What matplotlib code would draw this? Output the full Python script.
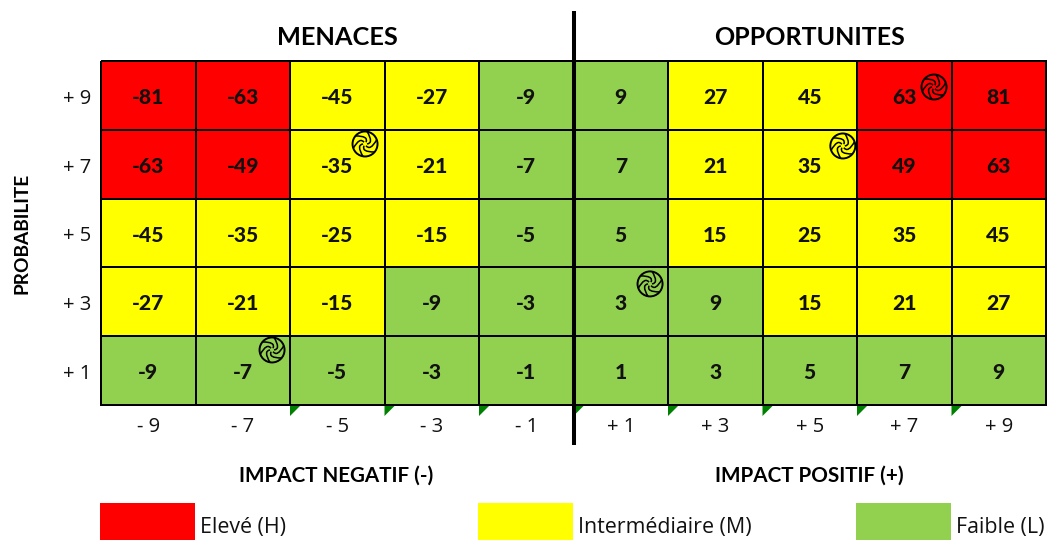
import numpy as np
import matplotlib
matplotlib.use('Agg')
import matplotlib.pyplot as plt
from matplotlib.colors import ListedColormap
from matplotlib.patches import Polygon, Circle, PathPatch
from matplotlib.path import Path
from matplotlib.transforms import Affine2D

impact_neg = [-9, -7, -5, -3, -1]
impact_pos = [1, 3, 5, 7, 9]
prob = [9, 7, 5, 3, 1]
impact_labels = ['- 9', '- 7', '- 5', '- 3', '- 1', '+ 1', '+ 3', '+ 5', '+ 7', '+ 9']
prob_labels = ['+ 9', '+ 7', '+ 5', '+ 3', '+ 1']
# colour class per cell: 0 low, 1 medium, 2 high
classes = [[2, 2, 1, 1, 0, 0, 1, 1, 2, 2],
           [2, 2, 1, 1, 0, 0, 1, 1, 2, 2],
           [1, 1, 1, 1, 0, 0, 1, 1, 1, 1],
           [1, 1, 1, 0, 0, 0, 0, 1, 1, 1],
           [0, 0, 0, 0, 0, 0, 0, 0, 0, 0]]
legend_labels = ['Elevé (H)', 'Intermédiaire (M)', 'Faible (L)']
colours = ['#92D050', '#FFFF00', '#FF0000']
# risk icons in cell units
icons = [(2.794, 1.206), (1.81, 4.2), (5.81, 3.24), (7.85, 1.235), (8.815, 0.378)]
flag_cols = [2, 3, 4, 5, 6, 7, 8, 9]

W, H = 1049, 540
fig = plt.figure(figsize=(W / 100, H / 100), dpi=100)
plt.rcParams['font.family'] = ['Lato', 'DejaVu Sans']
L, R, T, B = 101, 1046, 61, 405
ax = fig.add_axes([L / W, 1 - B / H, (R - L) / W, (B - T) / H])
vals = np.array([[i * p for i in impact_neg + impact_pos] for p in prob])
ax.pcolormesh(np.arange(11), np.arange(6), np.array(classes),
              cmap=ListedColormap(colours), vmin=0, vmax=2,
              edgecolors='black', linewidth=1.4, clip_on=False)
ax.set_xlim(0, 10)
ax.set_ylim(5, 0)
ax.axis('off')

for r in range(5):
    for c in range(10):
        ax.text(c + .5, r + .53, str(vals[r, c]), ha='center', va='center',
                fontsize=15.2, fontweight=900, color='#111111')


def spiral(cx, cy):
    # drawn in pixel units so that the icon stays round
    px = ax.transData.transform((cx, cy))
    tr = Affine2D().translate(*px)
    rad = 12.5
    ax.add_patch(Circle((0, 0), rad, transform=tr, fc='none', ec='black', lw=1.4, clip_on=False))
    for k in range(6):
        a0 = k * 2 * np.pi / 6
        verts = [(2 * np.cos(a0), 2 * np.sin(a0)),
                 (9 * np.cos(a0 + .1), 9 * np.sin(a0 + .1)),
                 (rad * np.cos(a0 + 1.4), rad * np.sin(a0 + 1.4))]
        ax.add_patch(PathPatch(Path(verts, [Path.MOVETO, Path.CURVE3, Path.CURVE3]),
                               transform=tr, fc='none', ec='black', lw=1.1, clip_on=False))


for cx, cy in icons:
    spiral(cx, cy)

# small green comment flags under the grid
for c in flag_cols:
    px = ax.transData.transform((c, 5))
    tr = Affine2D().translate(*px)
    ax.add_patch(Polygon([(0, -1), (10, -1), (0, -11)], closed=True, transform=tr,
                         fc='#008000', ec='none', clip_on=False))

# tick labels
for c, lab in enumerate(impact_labels):
    ax.text(c + .5, 5.32, lab, ha='center', va='center', fontsize=14.5, color='#111111',
            family=['Open Sans', 'DejaVu Sans'])
for r, lab in enumerate(prob_labels):
    ax.text(-.1, r + .55, lab, ha='right', va='center', fontsize=14.5, color='#111111',
            family=['Open Sans', 'DejaVu Sans'])

# centre divider
ax.plot([5, 5], [-0.72, 5.58], color='black', lw=2.9, clip_on=False, solid_capstyle='butt')

ax.text(2.5, -0.34, 'MENACES', ha='center', va='center', fontsize=18.3, fontweight='bold')
ax.text(7.5, -0.34, 'OPPORTUNITES', ha='center', va='center', fontsize=18, fontweight='bold')
ax.text(2.49, 6.03, 'IMPACT NEGATIF (-)', ha='center', va='center', fontsize=14.9, fontweight='bold')
ax.text(7.5, 6.03, 'IMPACT POSITIF (+)', ha='center', va='center', fontsize=14.9, fontweight='bold')
ax.text(-.84, 2.5, 'PROBABILITE', rotation=90, ha='center', va='center', fontsize=13.8, fontweight='bold')

# legend
for i, x0 in enumerate([-.01, 3.99, 7.99]):
    ax.add_patch(plt.Rectangle((x0, 6.42), 1.005, .55, fc=colours[2 - i], ec='none', clip_on=False))
    ax.text(x0 + 1.06, 6.78, legend_labels[i], ha='left', va='center', fontsize=15.4,
            color='#111111', family=['Open Sans', 'DejaVu Sans'])

fig.savefig('out.png', dpi=100)
